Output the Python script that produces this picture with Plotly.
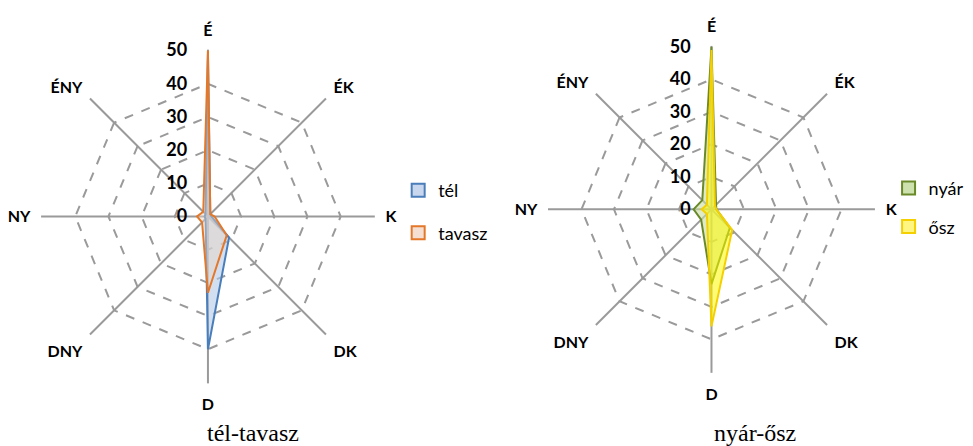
import plotly.graph_objects as go

directions = ["É", "ÉK", "K", "DK", "D", "DNY", "NY", "ÉNY"]
tel = [49, 1, 1, 9, 40, 1, 1, 1]
tavasz = [50, 1, 2, 8, 23, 2.5, 3.3, 2]
nyar = [50, 2, 1.5, 8, 23, 4.5, 5.5, 4]
osz = [49, 1.5, 1.5, 9, 36, 2, 3, 2]
radial_ticks = [0, 10, 20, 30, 40, 50]
captions = ["tél-tavasz", "nyár-ősz"]


def closed(v):
    return list(v) + [v[0]]


th = closed(directions)

series = [
    ("tél", tel, "rgba(180,202,232,0.6)", "#4a7ebb", "polar", "legend", "rgb(200,215,238)"),
    ("tavasz", tavasz, "rgba(235,212,195,0.45)", "#e4782a", "polar", "legend", "rgb(245,222,210)"),
    ("nyár", nyar, "rgba(200,222,160,0.6)", "#6a8a2a", "polar2", "legend2", "rgb(205,225,175)"),
    ("ősz", osz, "rgba(255,250,0,0.55)", "#f5d000", "polar2", "legend2", "rgb(255,245,130)"),
]

fig = go.Figure()
for name, vals, fillc, linec, sp, lg, boxc in series:
    fig.add_trace(go.Scatterpolar(r=closed(vals), theta=th, name=name, fill="toself",
                                  fillcolor=fillc, line=dict(color=linec, width=2),
                                  mode="lines", subplot=sp, showlegend=False))
for name, vals, fillc, linec, sp, lg, boxc in series:
    fig.add_trace(go.Scatterpolar(r=[None], theta=[directions[0]], name=name,
                                  mode="markers", subplot=sp, legend=lg,
                                  legendgroup=name, showlegend=True,
                                  marker=dict(symbol="square", size=13, color=boxc,
                                              line=dict(color=linec, width=2))))

label_font = dict(family="Lato, Open Sans, sans-serif", size=16, color="black", weight="bold")


def polar_layout(xd, yd):
    return dict(
        domain=dict(x=xd, y=yd),
        gridshape="linear",
        bgcolor="white",
        radialaxis=dict(range=[0, 50.3], tickvals=radial_ticks, angle=90,
                        side="counterclockwise", tickangle=90,
                        showline=False, ticks="outside", ticklen=14,
                        tickcolor="rgba(0,0,0,0)",
                        gridcolor="#9a9a9a", griddash="dash", gridwidth=1.5,
                        tickfont=dict(family="Lato, Open Sans, sans-serif", size=18,
                                      color="black", weight="bold")),
        angularaxis=dict(rotation=90, direction="clockwise", categoryarray=directions,
                         showline=False, gridcolor="#9a9a9a", gridwidth=1.5,
                         ticks="outside", ticklen=7, tickcolor="rgba(0,0,0,0)",
                         tickfont=label_font),
    )


legend_font = dict(family="Lato, Open Sans, sans-serif", size=18, color="black")

fig.update_layout(
    width=973, height=446,
    margin=dict(l=0, r=0, t=0, b=0),
    paper_bgcolor="white", plot_bgcolor="white",
    polar=polar_layout([0.034, 0.377], [0.153, 0.912]),
    polar2=polar_layout([0.552, 0.894], [0.182, 0.915]),
    legend=dict(x=0.401, y=0.632, xanchor="left", yanchor="top", tracegroupgap=16,
                font=legend_font, bgcolor="rgba(0,0,0,0)"),
    legend2=dict(x=0.905, y=0.637, xanchor="left", yanchor="top", tracegroupgap=12,
                 font=legend_font, bgcolor="rgba(0,0,0,0)"),
    annotations=[
        dict(text=captions[0], x=245 / 973, y=1 - 425 / 446, xref="paper", yref="paper",
             xanchor="center", yanchor="middle", showarrow=False,
             font=dict(family="Liberation Serif, serif", size=24, color="black")),
        dict(text=captions[1], x=747 / 973, y=1 - 425 / 446, xref="paper", yref="paper",
             xanchor="center", yanchor="middle", showarrow=False,
             font=dict(family="Liberation Serif, serif", size=24, color="black")),
    ],
)

fig.write_html("out.html")
